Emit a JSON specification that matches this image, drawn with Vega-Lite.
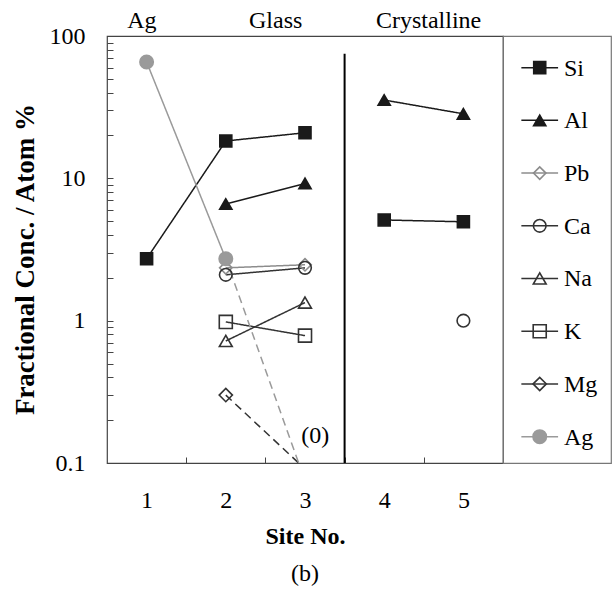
{
  "$schema": "https://vega.github.io/schema/vega-lite/v6.json",
  "background": "white",
  "padding": {"left": 10, "top": 8, "right": 0, "bottom": 0},
  "config": {
    "font": "Liberation Serif",
    "view": {"stroke": "#444", "strokeWidth": 1.2},
    "legend": {"disable": true},
    "axis": {"labelFont": "Liberation Serif", "titleFont": "Liberation Serif"},
    "text": {"font": "Liberation Serif"},
    "title": {"font": "Liberation Serif"}
  },
  "datasets": {
    "points": [
      {"element": "Si", "site": 1, "value": 2.72},
      {"element": "Si", "site": 2, "value": 18.3},
      {"element": "Si", "site": 3, "value": 20.9},
      {"element": "Si", "site": 4, "value": 5.1},
      {"element": "Si", "site": 5, "value": 4.95},
      {"element": "Al", "site": 2, "value": 6.6},
      {"element": "Al", "site": 3, "value": 9.2},
      {"element": "Al", "site": 4, "value": 35.5},
      {"element": "Al", "site": 5, "value": 28.4},
      {"element": "Pb", "site": 2, "value": 2.35},
      {"element": "Pb", "site": 3, "value": 2.47},
      {"element": "Ca", "site": 2, "value": 2.1},
      {"element": "Ca", "site": 3, "value": 2.35},
      {"element": "Ca", "site": 5, "value": 1.0},
      {"element": "Na", "site": 2, "value": 0.72},
      {"element": "Na", "site": 3, "value": 1.34},
      {"element": "K", "site": 2, "value": 0.98},
      {"element": "K", "site": 3, "value": 0.785},
      {"element": "Mg", "site": 2, "value": 0.3},
      {"element": "Ag", "site": 1, "value": 65.7},
      {"element": "Ag", "site": 2, "value": 2.72}
    ],
    "lines": [
      {"element": "Si", "seg": "Si-glass", "dash": "solid", "site": 1, "value": 2.72},
      {"element": "Si", "seg": "Si-glass", "dash": "solid", "site": 2, "value": 18.3},
      {"element": "Si", "seg": "Si-glass", "dash": "solid", "site": 3, "value": 20.9},
      {"element": "Si", "seg": "Si-cryst", "dash": "solid", "site": 4, "value": 5.1},
      {"element": "Si", "seg": "Si-cryst", "dash": "solid", "site": 5, "value": 4.95},
      {"element": "Al", "seg": "Al-glass", "dash": "solid", "site": 2, "value": 6.6},
      {"element": "Al", "seg": "Al-glass", "dash": "solid", "site": 3, "value": 9.2},
      {"element": "Al", "seg": "Al-cryst", "dash": "solid", "site": 4, "value": 35.5},
      {"element": "Al", "seg": "Al-cryst", "dash": "solid", "site": 5, "value": 28.4},
      {"element": "Pb", "seg": "Pb", "dash": "solid", "site": 2, "value": 2.35},
      {"element": "Pb", "seg": "Pb", "dash": "solid", "site": 3, "value": 2.47},
      {"element": "Ca", "seg": "Ca", "dash": "solid", "site": 2, "value": 2.1},
      {"element": "Ca", "seg": "Ca", "dash": "solid", "site": 3, "value": 2.35},
      {"element": "Na", "seg": "Na", "dash": "solid", "site": 2, "value": 0.72},
      {"element": "Na", "seg": "Na", "dash": "solid", "site": 3, "value": 1.34},
      {"element": "K", "seg": "K", "dash": "solid", "site": 2, "value": 0.98},
      {"element": "K", "seg": "K", "dash": "solid", "site": 3, "value": 0.785},
      {"element": "Mg", "seg": "Mg-zero", "dash": "dashed", "site": 2, "value": 0.3},
      {"element": "Mg", "seg": "Mg-zero", "dash": "dashed", "site": 2.92, "value": 0.1},
      {"element": "Ag", "seg": "Ag-a", "dash": "solid", "site": 1, "value": 65.7},
      {"element": "Ag", "seg": "Ag-a", "dash": "solid", "site": 2, "value": 2.72},
      {"element": "Ag", "seg": "Ag-zero", "dash": "dashed", "site": 2, "value": 2.72},
      {"element": "Ag", "seg": "Ag-zero", "dash": "dashed", "site": 2.92, "value": 0.1}
    ],
    "divider": [
      {"site": 3.5, "value": 0.1, "value2": 75}
    ],
    "notes": [
      {"label": "(0)", "site": 3.13, "value": 0.156}
    ],
    "groups": [
      {"label": "Ag", "site": 0.94, "value": 114},
      {"label": "Glass", "site": 2.63, "value": 114},
      {"label": "Crystalline", "site": 4.56, "value": 114}
    ],
    "legend": [
      {"element": "Si", "rank": 0},
      {"element": "Al", "rank": 1},
      {"element": "Pb", "rank": 2},
      {"element": "Ca", "rank": 3},
      {"element": "Na", "rank": 4},
      {"element": "K", "rank": 5},
      {"element": "Mg", "rank": 6},
      {"element": "Ag", "rank": 7}
    ]
  },
  "bounds": "flush",
  "spacing": 0,
  "resolve": {"scale": {"x": "independent", "y": "independent"}},
  "hconcat": [
    {
      "width": 396,
      "height": 427,
      "title": {
        "text": "(b)",
        "orient": "bottom",
        "anchor": "middle",
        "font": "Liberation Serif",
        "fontSize": 24,
        "fontWeight": "normal",
        "color": "black",
        "offset": 14
      },
      "encoding": {
        "x": {
          "field": "site",
          "type": "quantitative",
          "scale": {"domain": [0.5, 5.5], "nice": false, "zero": false},
          "axis": {
            "title": "Site No.",
            "values": [1.5, 2.5, 3.5, 4.5, 5.5],
            "labelExpr": "format(datum.value - 0.5, 'd')",
            "labelOffset": -39.6,
            "labelFlush": false,
            "labelOverlap": false,
            "grid": false,
            "domain": false,
            "tickSize": -6,
            "tickColor": "#444",
            "labelPadding": 31,
            "labelFont": "Liberation Serif",
            "labelFontSize": 24,
            "labelColor": "black",
            "titleFont": "Liberation Serif",
            "titleFontSize": 24,
            "titleFontWeight": "bold",
            "titleColor": "black",
            "titlePadding": 12
          }
        },
        "y": {
          "field": "value",
          "type": "quantitative",
          "scale": {"type": "log", "domain": [0.1, 100], "nice": false},
          "axis": {
            "title": "Fractional Conc. / Atom %",
            "values": [0.1, 0.2, 0.3, 0.4, 0.5, 0.6, 0.7, 0.8, 0.9, 1, 2, 3, 4, 5, 6, 7, 8, 9, 10, 20, 30, 40, 50, 60, 70, 80, 90, 100],
            "labelExpr": "datum.value == 0.1 ? '0.1' : datum.value == 1 ? '1' : datum.value == 10 ? '10' : datum.value == 100 ? '100' : ''",
            "labelOverlap": false,
            "labelBound": false,
            "grid": false,
            "domain": false,
            "tickSize": -6,
            "tickColor": "#444",
            "labelPadding": 28,
            "labelFont": "Liberation Serif",
            "labelFontSize": 24,
            "labelColor": "black",
            "titleFont": "Liberation Serif",
            "titleFontSize": 27,
            "titleFontWeight": "bold",
            "titleColor": "black",
            "titlePadding": 10,
            "titleY": 223
          }
        }
      },
      "layer": [
        {
          "data": {"name": "divider"},
          "mark": {"type": "rule", "color": "black", "strokeWidth": 2},
          "encoding": {"y2": {"field": "value2"}}
        },
        {
          "data": {"name": "lines"},
          "mark": {"type": "line", "strokeWidth": 1.5},
          "encoding": {
            "detail": {"field": "seg"},
            "stroke": {
              "field": "element",
              "type": "nominal",
              "scale": {
                "domain": ["Si", "Al", "Pb", "Ca", "Na", "K", "Mg", "Ag"],
                "range": ["#1a1a1a", "#1a1a1a", "#8c8c8c", "#333333", "#333333", "#333333", "#333333", "#9a9a9a"]
              }
            },
            "strokeDash": {
              "field": "dash",
              "type": "nominal",
              "scale": {"domain": ["solid", "dashed"], "range": [[1, 0], [8, 5]]}
            }
          }
        },
        {
          "data": {"name": "points"},
          "mark": {"type": "point", "opacity": 1, "strokeWidth": 1.6},
          "encoding": {
            "shape": {
              "field": "element",
              "type": "nominal",
              "scale": {
                "domain": ["Si", "Al", "Pb", "Ca", "Na", "K", "Mg", "Ag"],
                "range": ["square", "triangle-up", "diamond", "circle", "triangle-up", "square", "diamond", "circle"]
              }
            },
            "size": {
              "field": "element",
              "type": "nominal",
              "scale": {
                "domain": ["Si", "Al", "Pb", "Ca", "Na", "K", "Mg", "Ag"],
                "range": [144, 180, 70, 120, 160, 130, 80, 150]
              }
            },
            "stroke": {
              "field": "element",
              "type": "nominal",
              "scale": {
                "domain": ["Si", "Al", "Pb", "Ca", "Na", "K", "Mg", "Ag"],
                "range": ["#1a1a1a", "#1a1a1a", "#8c8c8c", "#333333", "#333333", "#333333", "#333333", "#9a9a9a"]
              }
            },
            "fill": {
              "field": "element",
              "type": "nominal",
              "scale": {
                "domain": ["Si", "Al", "Pb", "Ca", "Na", "K", "Mg", "Ag"],
                "range": ["#1a1a1a", "#1a1a1a", "transparent", "transparent", "transparent", "transparent", "transparent", "#9a9a9a"]
              }
            }
          }
        },
        {
          "data": {"name": "notes"},
          "mark": {"type": "text", "font": "Liberation Serif", "fontSize": 24, "baseline": "middle", "align": "center", "color": "black"},
          "encoding": {"text": {"field": "label"}}
        },
        {
          "data": {"name": "groups"},
          "mark": {"type": "text", "font": "Liberation Serif", "fontSize": 24, "baseline": "alphabetic", "align": "center", "color": "black"},
          "encoding": {"text": {"field": "label"}}
        }
      ]
    },
    {
      "width": 108,
      "height": 427,
      "view": {"stroke": "#777", "strokeWidth": 1.2},
      "data": {"name": "legend"},
      "encoding": {
        "y": {
          "field": "rank",
          "type": "quantitative",
          "scale": {"domain": [-0.6, 7.5], "reverse": true, "nice": false, "zero": false},
          "axis": null
        }
      },
      "layer": [
        {
          "mark": {"type": "rule", "strokeWidth": 1.5},
          "encoding": {
            "x": {"datum": 0.17, "type": "quantitative", "scale": {"domain": [0, 1], "nice": false}, "axis": null},
            "x2": {"datum": 0.51},
            "color": {
              "field": "element",
              "type": "nominal",
              "scale": {
                "domain": ["Si", "Al", "Pb", "Ca", "Na", "K", "Mg", "Ag"],
                "range": ["#1a1a1a", "#1a1a1a", "#8c8c8c", "#333333", "#333333", "#333333", "#333333", "#9a9a9a"]
              }
            }
          }
        },
        {
          "mark": {"type": "point", "opacity": 1, "strokeWidth": 1.6},
          "encoding": {
            "x": {"datum": 0.34, "type": "quantitative"},
            "shape": {
              "field": "element",
              "type": "nominal",
              "scale": {
                "domain": ["Si", "Al", "Pb", "Ca", "Na", "K", "Mg", "Ag"],
                "range": ["square", "triangle-up", "diamond", "circle", "triangle-up", "square", "diamond", "circle"]
              }
            },
            "size": {
              "field": "element",
              "type": "nominal",
              "scale": {
                "domain": ["Si", "Al", "Pb", "Ca", "Na", "K", "Mg", "Ag"],
                "range": [110, 130, 60, 100, 120, 100, 60, 130]
              }
            },
            "stroke": {
              "field": "element",
              "type": "nominal",
              "scale": {
                "domain": ["Si", "Al", "Pb", "Ca", "Na", "K", "Mg", "Ag"],
                "range": ["#1a1a1a", "#1a1a1a", "#8c8c8c", "#333333", "#333333", "#333333", "#333333", "#9a9a9a"]
              }
            },
            "fill": {
              "field": "element",
              "type": "nominal",
              "scale": {
                "domain": ["Si", "Al", "Pb", "Ca", "Na", "K", "Mg", "Ag"],
                "range": ["#1a1a1a", "#1a1a1a", "transparent", "transparent", "transparent", "transparent", "transparent", "#9a9a9a"]
              }
            }
          }
        },
        {
          "mark": {"type": "text", "font": "Liberation Serif", "fontSize": 24, "align": "left", "baseline": "middle", "color": "black", "dy": 1},
          "encoding": {
            "x": {"datum": 0.565, "type": "quantitative"},
            "text": {"field": "element"}
          }
        }
      ]
    }
  ]
}
